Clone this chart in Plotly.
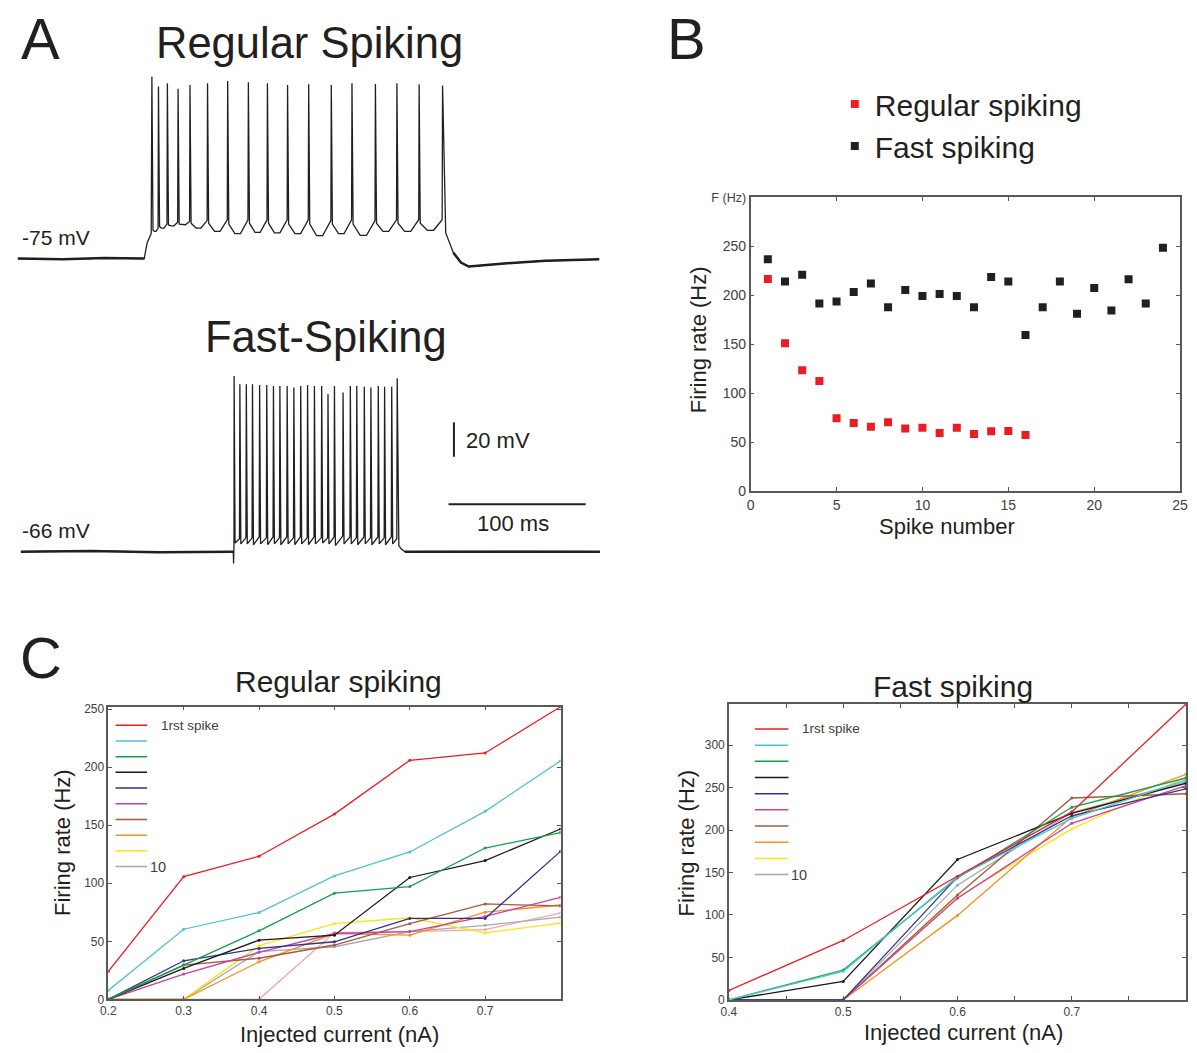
import plotly.graph_objects as go

W, H = 1197, 1053
FONT = "Liberation Sans, Arial, Helvetica, sans-serif"
INK = "#231f20"

# ===================== Panel A : recordings (time ms, potential mV) =====================
rs_onset_t = [7.2, 40.0, 70.0, 99.4, 101.5, 104.5]
rs_onset_v = [-75.0, -75.4, -74.7, -75.0, -66.0, -60.5]
rs_spike_t = [105.0, 109.8, 116.3, 124.1, 132.8, 145.6, 160.3, 175.4, 189.3, 204.0,
              219.4, 235.9, 251.0, 268.1, 283.8, 300.0, 317.1]
rs_spike_peak = [30.3, 24.6, 26.6, 23.3, 25.6, 26.6, 27.9, 27.1, 26.6, 25.6,
                 26.0, 25.6, 26.6, 26.1, 26.6, 26.0, 25.2]
rs_isi_post = [-58.5, -56.5, -55.5, -55.0, -54.5, -54.5, -55.0, -54.5, -54.5, -55.0,
               -55.0, -55.0, -55.0, -54.5, -54.5, -54.5]
rs_isi_min = [-59.2, -57.3, -56.0, -55.4, -57.3, -59.2, -60.5, -59.8, -60.1, -60.5,
              -61.7, -60.5, -61.5, -59.2, -59.2, -58.6]
rs_isi_pre = [-57.5, -55.0, -54.0, -53.5, -53.0, -52.5, -52.5, -52.5, -52.5, -52.5,
              -53.0, -52.5, -53.0, -52.5, -52.5, -52.5]
rs_tail_t = [319.4, 325.0, 330.5, 336.2, 364.2, 392.2, 431.4]
rs_tail_v = [-60.1, -71.6, -77.3, -79.6, -77.7, -76.3, -75.4]

fs_onset_t = [9.4, 60.0, 110.0, 164.4, 164.6, 164.9]
fs_onset_v = [-66.0, -65.6, -66.3, -66.0, -72.9, -62.4]
fs_spike_t = [165.0, 169.2, 173.9, 178.4, 183.6, 188.8, 193.7, 198.4, 203.7, 208.6,
              213.6, 218.6, 223.6, 228.9, 233.5, 238.2, 244.5, 249.8, 254.5, 260.0,
              264.8, 270.2, 274.8, 280.0, 284.0]
fs_spike_peak = [35.7, 31.0, 31.0, 31.0, 30.5, 30.5, 30.0, 30.0, 30.0, 29.0,
                 30.0, 30.5, 30.0, 30.0, 25.3, 30.0, 26.2, 30.0, 30.0, 29.5,
                 29.0, 30.0, 29.5, 29.5, 34.4]
fs_isi_ahp = [-61.0, -61.5, -61.5, -62.0, -61.5, -62.0, -61.5, -62.0, -61.5, -62.0,
              -61.5, -62.0, -61.5, -61.0, -61.5, -62.5, -61.5, -61.5, -62.0, -61.5,
              -62.0, -61.5, -62.0, -61.5]
fs_isi_pre = [-58.5, -58.0, -58.0, -57.5, -58.0, -57.5, -58.0, -57.5, -58.0, -57.5,
              -58.0, -57.5, -58.0, -58.0, -57.5, -57.0, -57.5, -58.0, -57.5, -58.0,
              -57.5, -58.0, -57.5, -58.5]
fs_tail_t = [285.2, 287.0, 289.5, 380.0, 432.0]
fs_tail_v = [-62.5, -64.5, -66.0, -65.8, -66.0]

scalebar_time_ms = 100
scalebar_volt_mV = 20

# ===================== Panel B : instantaneous firing rate =====================
spike_num_rs = list(range(1, 17))
rate_rs = [216.8, 151.0, 123.5, 112.4, 74.5, 69.5, 65.8, 70.5, 64.1, 64.8,
           59.4, 64.8, 58.4, 61.1, 61.4, 57.4]
spike_num_fs = list(range(1, 25))
rate_fs = [236.9, 214.1, 221.1, 191.6, 193.6, 203.4, 212.1, 187.9, 205.4, 199.3,
           201.3, 199.3, 187.9, 218.8, 214.1, 159.4, 187.9, 214.1, 181.2, 207.4,
           184.6, 216.4, 191.6, 248.7]

# ===================== Panel C : f-I curves per spike =====================
current_rs = [0.2, 0.3, 0.4, 0.5, 0.6, 0.7, 0.8]
rs_spk1 = [24.0, 105.7, 123.3, 159.6, 206.0, 212.3, 252.2]
rs_spk2 = [7.7, 60.4, 74.8, 106.3, 127.0, 162.0, 205.5]
rs_spk3 = [0.0, 29.8, 59.0, 91.5, 97.2, 130.4, 143.7]
rs_spk4 = [0.0, 26.6, 51.0, 55.3, 105.0, 119.6, 146.8]
rs_spk5 = [0.0, 33.2, 43.9, 49.6, 69.7, 69.7, 127.5]
rs_spk6 = [0.0, 21.8, 40.5, 56.7, 58.4, 71.4, 87.9]
rs_spk7 = [0.0, 29.5, 35.4, 46.8, 65.2, 82.2, 80.5]
rs_spk8 = [0.0, 0.0, 32.3, 56.7, 55.3, 75.1, 81.3]
rs_spk9 = [0.0, 0.0, 46.2, 65.2, 70.3, 57.2, 65.7]
rs_spk10 = [0.0, 0.0, 41.1, 45.3, 58.4, 63.8, 70.9]
rs_extra = [0.0, 0.0, 0.0, 57.5, 58.4, 60.1, 74.3]

current_fs = [0.4, 0.5, 0.6, 0.7, 0.8]
fs_spk1 = [11.2, 70.0, 145.6, 221.4, 348.4]
fs_spk2 = [0.0, 33.7, 144.8, 213.7, 259.0]
fs_spk3 = [0.0, 35.2, 143.6, 226.8, 261.3]
fs_spk4 = [0.0, 21.7, 165.3, 219.5, 255.1]
fs_spk5 = [0.0, 0.0, 144.8, 216.8, 248.5]
fs_spk6 = [0.0, 0.0, 119.6, 207.9, 252.4]
fs_spk7 = [0.0, 0.0, 123.5, 237.7, 242.7]
fs_spk8 = [0.0, 0.0, 99.5, 215.6, 265.6]
fs_spk9 = [0.0, 0.0, 120.8, 201.3, 262.1]
fs_spk10 = [0.0, 0.0, 135.1, 220.6, 257.0]

spike_colors = ["#ec1c24", "#4fc3d0", "#13a14b", "#1a1a1a", "#2e3192",
                "#c8409f", "#a65a3e", "#f7901e", "#f5e614", "#a7a9ac"]
extra_color = "#f5a3a9"
legend_labels = ["1rst spike", "", "", "", "", "", "", "", "", "10"]


# ---------------------------------------------------------------------------
def px(x):
    return x / W


def py(y):
    return 1 - y / H


def build_trace(on_t, on_v, sp_t, sp_v, post, vmin, pre, tail_t, tail_v, up=0.3, down=0.8):
    t, v = list(on_t), list(on_v)
    n = len(sp_t)
    for i in range(n):
        if i > 0:
            t.append(sp_t[i] - up)
            v.append(pre[i - 1])
        t.append(sp_t[i])
        v.append(sp_v[i])
        if i < n - 1:
            t.append(sp_t[i] + down)
            v.append(post[i])
            if vmin is not None:
                isi = sp_t[i + 1] - sp_t[i]
                t.append(sp_t[i] + 0.35 * isi)
                v.append(vmin[i])
                t.append(sp_t[i] + 0.62 * isi)
                v.append(vmin[i])
    t += list(tail_t)
    v += list(tail_v)
    return t, v


fig = go.Figure()

rs_t, rs_v = build_trace(rs_onset_t, rs_onset_v, rs_spike_t, rs_spike_peak,
                         rs_isi_post, rs_isi_min, rs_isi_pre, rs_tail_t, rs_tail_v)
fs_t, fs_v = build_trace(fs_onset_t, fs_onset_v, fs_spike_t, fs_spike_peak,
                         fs_isi_ahp, None, fs_isi_pre, fs_tail_t, fs_tail_v, up=0.3, down=0.7)

fig.add_trace(go.Scatter(x=rs_t, y=rs_v, mode="lines", line=dict(color=INK, width=1.3),
                         xaxis="x", yaxis="y", showlegend=False, hoverinfo="skip"))
fig.add_trace(go.Scatter(x=rs_onset_t[:4], y=rs_onset_v[:4], mode="lines",
                         line=dict(color=INK, width=2.5), xaxis="x", yaxis="y",
                         showlegend=False, hoverinfo="skip"))
fig.add_trace(go.Scatter(x=rs_tail_t[1:], y=rs_tail_v[1:], mode="lines",
                         line=dict(color=INK, width=2.5), xaxis="x", yaxis="y",
                         showlegend=False, hoverinfo="skip"))

fig.add_trace(go.Scatter(x=fs_t, y=fs_v, mode="lines", line=dict(color=INK, width=1.3),
                         xaxis="x2", yaxis="y2", showlegend=False, hoverinfo="skip"))
fig.add_trace(go.Scatter(x=fs_onset_t[:4], y=fs_onset_v[:4], mode="lines",
                         line=dict(color=INK, width=2.5), xaxis="x2", yaxis="y2",
                         showlegend=False, hoverinfo="skip"))
fig.add_trace(go.Scatter(x=fs_tail_t[2:], y=fs_tail_v[2:], mode="lines",
                         line=dict(color=INK, width=2.5), xaxis="x2", yaxis="y2",
                         showlegend=False, hoverinfo="skip"))

# ---- Panel B scatter
fig.add_trace(go.Scatter(x=spike_num_rs, y=rate_rs, mode="markers", name="Regular spiking",
                         marker=dict(symbol="square", size=8, color="#ec1c24"),
                         xaxis="x3", yaxis="y3"))
fig.add_trace(go.Scatter(x=spike_num_fs, y=rate_fs, mode="markers", name="Fast spiking",
                         marker=dict(symbol="square", size=8, color=INK),
                         xaxis="x3", yaxis="y3"))

# ---- Panel C
rs_curves = [rs_spk1, rs_spk2, rs_spk3, rs_spk4, rs_spk5, rs_spk6, rs_spk7, rs_spk8, rs_spk9, rs_spk10]
fs_curves = [fs_spk1, fs_spk2, fs_spk3, fs_spk4, fs_spk5, fs_spk6, fs_spk7, fs_spk8, fs_spk9, fs_spk10]

fig.add_trace(go.Scatter(x=current_rs, y=rs_extra, mode="lines+markers",
                         line=dict(color=extra_color, width=1.3), marker=dict(size=3, color=extra_color),
                         xaxis="x4", yaxis="y4", showlegend=False))
for i in range(9, -1, -1):
    fig.add_trace(go.Scatter(x=current_rs, y=rs_curves[i], mode="lines+markers",
                             line=dict(color=spike_colors[i], width=1.3),
                             marker=dict(size=3, color=spike_colors[i]),
                             xaxis="x4", yaxis="y4", showlegend=False))
for i in range(9, -1, -1):
    fig.add_trace(go.Scatter(x=current_fs, y=fs_curves[i], mode="lines+markers",
                             line=dict(color=spike_colors[i], width=1.3),
                             marker=dict(size=3, color=spike_colors[i]),
                             xaxis="x5", yaxis="y5", showlegend=False))

# ---------------------------------------------------------------------------
hidden = dict(visible=False, showgrid=False, zeroline=False)
ms_per_px = 1 / 1.389
mv_per_px = 1 / 1.75

axis_frame = dict(showline=True, linecolor="#58595b", linewidth=1.5, mirror="allticks",
                  ticks="inside", ticklen=4, tickcolor="#58595b", showgrid=False, zeroline=False)

layout = dict(
    width=W, height=H, autosize=False,
    margin=dict(l=0, r=0, t=0, b=0),
    paper_bgcolor="white", plot_bgcolor="white",
    font=dict(family=FONT, color=INK),
    xaxis=dict(domain=[0, px(610)], range=[0, 610 * ms_per_px], anchor="y", **hidden),
    yaxis=dict(domain=[py(280), py(60)], range=[-75 - 24 * mv_per_px, -75 + 196 * mv_per_px],
               anchor="x", **hidden),
    xaxis2=dict(domain=[0, px(610)], range=[0, 610 * ms_per_px], anchor="y2", **hidden),
    yaxis2=dict(domain=[py(575), py(360)], range=[-66 - 22 * mv_per_px, -66 + 193 * mv_per_px],
                anchor="x2", **hidden),
    xaxis3=dict(domain=[px(752.7), px(1188)], range=[0, 25], anchor="y3",
                tickvals=[0, 5, 10, 15, 20, 25], tickfont=dict(size=14, color="#414042"),
                **axis_frame),
    yaxis3=dict(domain=[py(491.7), py(194)], range=[0, 300], anchor="x3",
                tickvals=[0, 50, 100, 150, 200, 250, 300],
                ticktext=["0", "50", "100", "150", "200", "250",
                          "<span style='font-size:12.5px'>F (Hz)</span>"],
                tickfont=dict(size=14, color="#414042"), **axis_frame),
    xaxis4=dict(domain=[px(101.7), px(560)], range=[0.2, 0.8], anchor="y4",
                tickvals=[0.2, 0.3, 0.4, 0.5, 0.6, 0.7], ticktext=["0.2", "0.3", "0.4", "0.5", "0.6", "0.7"],
                tickfont=dict(size=12, color="#414042"), **axis_frame),
    yaxis4=dict(domain=[py(1006.7), py(710)], range=[0, 252.3], anchor="x4",
                tickvals=[0, 50, 100, 150, 200, 250],
                tickfont=dict(size=12, color="#414042"), **axis_frame),
    xaxis5=dict(domain=[px(730.7), px(1194)], range=[0.4, 0.8], anchor="y5",
                tickvals=[0.4, 0.45, 0.5, 0.55, 0.6, 0.65, 0.7, 0.75],
                ticktext=["0.4", "", "0.5", "", "0.6", "", "0.7", ""],
                tickfont=dict(size=12, color="#414042"), **axis_frame),
    yaxis5=dict(domain=[py(1007.3), py(707.3)], range=[0, 348.5], anchor="x5",
                tickvals=[0, 50, 100, 150, 200, 250, 300],
                tickfont=dict(size=12, color="#414042"), **axis_frame),
    legend=dict(x=px(838), y=py(73), xanchor="left", yanchor="top",
                font=dict(size=30, family=FONT, color=INK), bgcolor="rgba(0,0,0,0)",
                borderwidth=0, itemclick=False),
    showlegend=True,
)
fig.update_layout(**layout)

# scale bars (panel A, drawn in data units of the FS recording)
bar_t0 = 321.5
bar_v = -38.6
vbar_t = 325.4
vbar_v0 = -11.1
shapes = [
    dict(type="line", xref="x2", yref="y2", x0=bar_t0, x1=bar_t0 + scalebar_time_ms,
         y0=bar_v, y1=bar_v, line=dict(color=INK, width=2)),
    dict(type="line", xref="x2", yref="y2", x0=vbar_t, x1=vbar_t,
         y0=vbar_v0, y1=vbar_v0 + scalebar_volt_mV, line=dict(color=INK, width=2)),
]


def txt(s, x, y, size, family=FONT, xanchor="center", angle=0, color=INK):
    return dict(text=s, x=px(x), y=py(y), xref="paper", yref="paper", xanchor=xanchor,
                yanchor="middle", showarrow=False, textangle=angle,
                font=dict(family=family, size=size, color=color))


anns = [
    txt("A", 33, 33, 58),
    txt("Regular Spiking", 306, 37, 43.5),
    txt("Fast-Spiking", 322, 335, 43.5),
    txt("-75 mV", 12, 235, 21, xanchor="left"),
    txt("-66 mV", 12, 532, 21, xanchor="left"),
    txt("20 mV", 462, 440, 22, xanchor="left"),
    txt("100 ms", 512, 524, 22),
    txt("B", 688, 33, 58),
    txt("Firing rate (Hz)", 700, 338, 22, angle=-90),
    txt("Spike number", 952, 528, 22),
    txt("C", 33, 660, 58),
    txt("Regular spiking", 335, 685, 30),
    txt("Fast spiking", 958, 690, 30),
    txt("Firing rate (Hz)", 55, 848, 22, angle=-90),
    txt("Injected current (nA)", 336, 1042, 22),
    txt("Firing rate (Hz)", 688, 848, 22, angle=-90),
    txt("Injected current (nA)", 968, 1040, 22),
]


# Panel C legends (line samples + labels)
def c_legend(x0, x1, y0, dy, lab_x_first, lab_x_last):
    for i, col in enumerate(spike_colors):
        yy = y0 + i * dy
        shapes.append(dict(type="line", xref="paper", yref="paper", x0=px(x0), x1=px(x1),
                           y0=py(yy), y1=py(yy), line=dict(color=col, width=1.5)))
    anns.append(dict(text=legend_labels[0], x=px(lab_x_first), y=py(y0), xref="paper", yref="paper",
                     xanchor="left", yanchor="middle", showarrow=False,
                     font=dict(family=FONT, size=13.5, color="#414042")))
    anns.append(dict(text=legend_labels[-1], x=px(lab_x_last), y=py(y0 + 9 * dy), xref="paper",
                     yref="paper", xanchor="left", yanchor="middle", showarrow=False,
                     font=dict(family=FONT, size=14.5, color="#414042")))


c_legend(109, 141, 729, 15.9, 153, 142)
c_legend(757, 791, 732.7, 16.4, 803, 792)

fig.update_layout(shapes=shapes, annotations=anns)
fig.write_html("out.html")
